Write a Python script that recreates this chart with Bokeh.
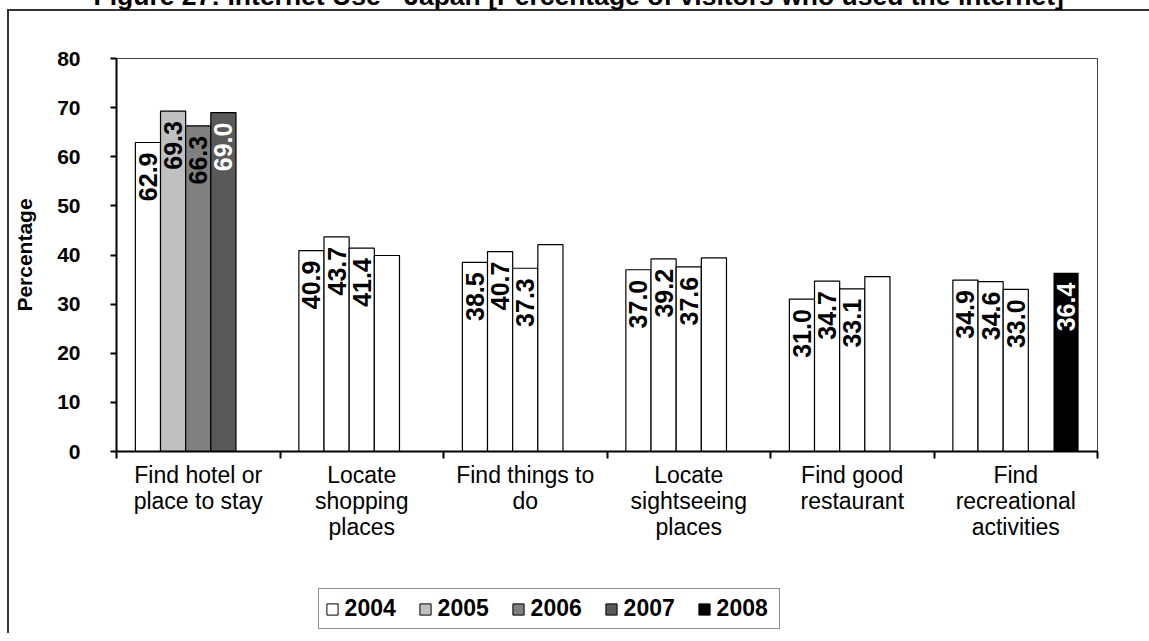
import math
from bokeh.plotting import figure
from bokeh.layouts import column
from bokeh.models import (ColumnDataSource, Range1d, FixedTicker, Legend, LegendItem)
from bokeh.core.properties import value
from bokeh.embed import file_html
from bokeh.resources import INLINE

NAN = float("nan")

# ---------------- data ----------------
categories = ["Find hotel or\nplace to stay", "Locate\nshopping\nplaces", "Find things to\ndo",
              "Locate\nsightseeing\nplaces", "Find good\nrestaurant", "Find\nrecreational\nactivities"]
years = ["2004", "2005", "2006", "2007", "2008"]
v2004 = [62.9, 40.9, 38.5, 37.0, 31.0, 34.9]
v2005 = [69.3, 43.7, 40.7, 39.2, 34.7, 34.6]
v2006 = [66.3, 41.4, 37.3, 37.6, 33.1, 33.0]
v2007 = [69.0, 39.9, 42.1, 39.4, 35.6, NAN]
v2008 = [NAN, NAN, NAN, NAN, NAN, 36.4]
y_ticks = [0, 10, 20, 30, 40, 50, 60, 70, 80]
title_text = "Figure 27: Internet Use - Japan [Percentage of visitors who used the internet]"
y_title = "Percentage"

series = [v2004, v2005, v2006, v2007, v2008]
series_colors = ["#FFFFFF", "#C0C0C0", "#808080", "#595959", "#000000"]

FONT_NAME = "Liberation Sans"
FONT = value(FONT_NAME)

# layout (page pixels); canvas top sits T px above the page top so the
# title is cut like in the source
T = 80
FL, FR, FT, FB = 116, 1097, 58, 451
W = 1149
MAIN_BOTTOM = 560          # page y where the chart canvas ends
LEG_H = 73                 # legend strip height
HC = MAIN_BOTTOM + T

p = figure(width=W, height=HC, output_backend="svg", toolbar_location=None,
           x_range=Range1d(0, len(categories)), y_range=Range1d(0, 80),
           min_border_left=FL, min_border_right=W - FR, min_border_top=FT + T,
           min_border_bottom=HC - (FB + T), tools="")
p.styles = {"box-shadow": f"inset 7px {9 + T}px 0 0 #ffffff, inset 9px {11 + T}px 0 0 #333333"}
p.background_fill_color = "white"
p.border_fill_color = None
p.outline_line_color = "#404040"
p.outline_line_width = 1
p.grid.visible = False

# title
p.title.text = title_text
p.title.align = "left"
p.title.offset = 93 - FL
p.title.vertical_align = "bottom"
p.title.standoff = 95
p.title.text_font = FONT_NAME
p.title.text_font_style = "bold"
p.title.text_font_size = "26.5px"
p.title.text_color = "black"

n = len(years)
bw = 1.0 / (n + 1.5)
start = 0.75 * bw

for j, (yr, vals, col) in enumerate(zip(years, series, series_colors)):
    xs = [i + start + (j + 0.5) * bw for i in range(len(categories))]
    fills, lines, labels, tcols = [], [], [], []
    for i, v in enumerate(vals):
        colored = (i == 0) or yr == "2008"
        fc = col if colored else "#FFFFFF"
        fills.append(fc)
        lines.append("#000000" if fc != "#000000" else None)
        show = (yr != "2007") or i == 0
        labels.append(f"{v:.1f}" if (show and not math.isnan(v)) else "")
        tcols.append("white" if fc in ("#595959", "#000000") else "black")
    src = ColumnDataSource(dict(x=xs, top=vals, fill=fills, line=lines,
                                lab=labels, tc=tcols))
    p.vbar(x="x", top="top", width=bw, source=src, fill_color="fill",
           line_color="line", line_width=1.2)
    p.text(x="x", y="top", text="lab", source=src, angle=math.pi / 2,
           text_align="right", text_baseline="middle", y_offset=10,
           text_font=FONT, text_font_style="bold", text_font_size="25px",
           text_color="tc")

# y axis
ya = p.yaxis[0]
ya.ticker = FixedTicker(ticks=y_ticks)
ya.minor_tick_line_color = None
ya.major_tick_in = 0
ya.major_tick_out = 6
ya.major_tick_line_width = 2
ya.axis_line_width = 2
ya.major_label_standoff = 30
ya.major_label_text_font = FONT_NAME
ya.major_label_text_font_style = "bold"
ya.major_label_text_font_size = "21px"
ya.major_label_text_color = "black"
ya.axis_label = y_title
ya.axis_label_standoff = 18
ya.axis_label_text_font = FONT_NAME
ya.axis_label_text_font_style = "bold"
ya.axis_label_text_font_size = "21px"
ya.axis_label_text_color = "black"

# x axis
xa = p.xaxis[0]
xa.ticker = FixedTicker(ticks=[i + 0.5 for i in range(len(categories))],
                        minor_ticks=list(range(len(categories) + 1)))
xa.major_label_overrides = {i + 0.5: c for i, c in enumerate(categories)}
xa.major_tick_line_color = None
xa.minor_tick_in = 0
xa.minor_tick_out = 7
xa.minor_tick_line_width = 2
xa.axis_line_width = 2
xa.major_label_standoff = 3
xa.major_label_text_font = FONT_NAME
xa.major_label_text_font_size = "23px"
xa.major_label_text_line_height = 1.0
xa.major_label_text_color = "black"

# ---------------- legend strip (frame aligned with the chart's frame) ----------------
lf = figure(width=W, height=LEG_H, output_backend="svg", toolbar_location=None,
            x_range=Range1d(0, 1), y_range=Range1d(0, 1), tools="",
            x_axis_type=None, y_axis_type=None,
            min_border_left=0, min_border_right=0, min_border_top=0, min_border_bottom=0)
lf.title.visible = False
lf.grid.visible = False
lf.outline_line_color = None
lf.background_fill_color = None
lf.border_fill_color = None
lf.styles = {"box-shadow": "inset 7px 0 0 0 #ffffff, inset 9px 0 0 0 #333333"}

items = []
for yr, col in zip(years, series_colors):
    # swatch-only renderer (one empty point) so the legend can draw its key
    r = lf.vbar(x=[NAN], top=[NAN], width=0.1, fill_color=col, line_color="#000000",
                line_width=1)
    items.append(LegendItem(label=yr, renderers=[r]))

legend = Legend(items=items, orientation="horizontal",
                location=(317.6 - FL, LEG_H - (629 - MAIN_BOTTOM)),
                glyph_width=14, glyph_height=14, label_standoff=6, label_width=56,
                spacing=17, padding=6, margin=0,
                label_text_font=FONT_NAME, label_text_font_style="bold",
                label_text_font_size="23px", label_text_color="black",
                border_line_color="#222222", border_line_width=1.5,
                background_fill_color="white", background_fill_alpha=1)
lf.add_layout(legend, "center")

layout = column(p, lf, spacing=0)
layout.styles = {"margin-top": f"-{T}px"}

open("out.html", "w").write(file_html(layout, INLINE))
